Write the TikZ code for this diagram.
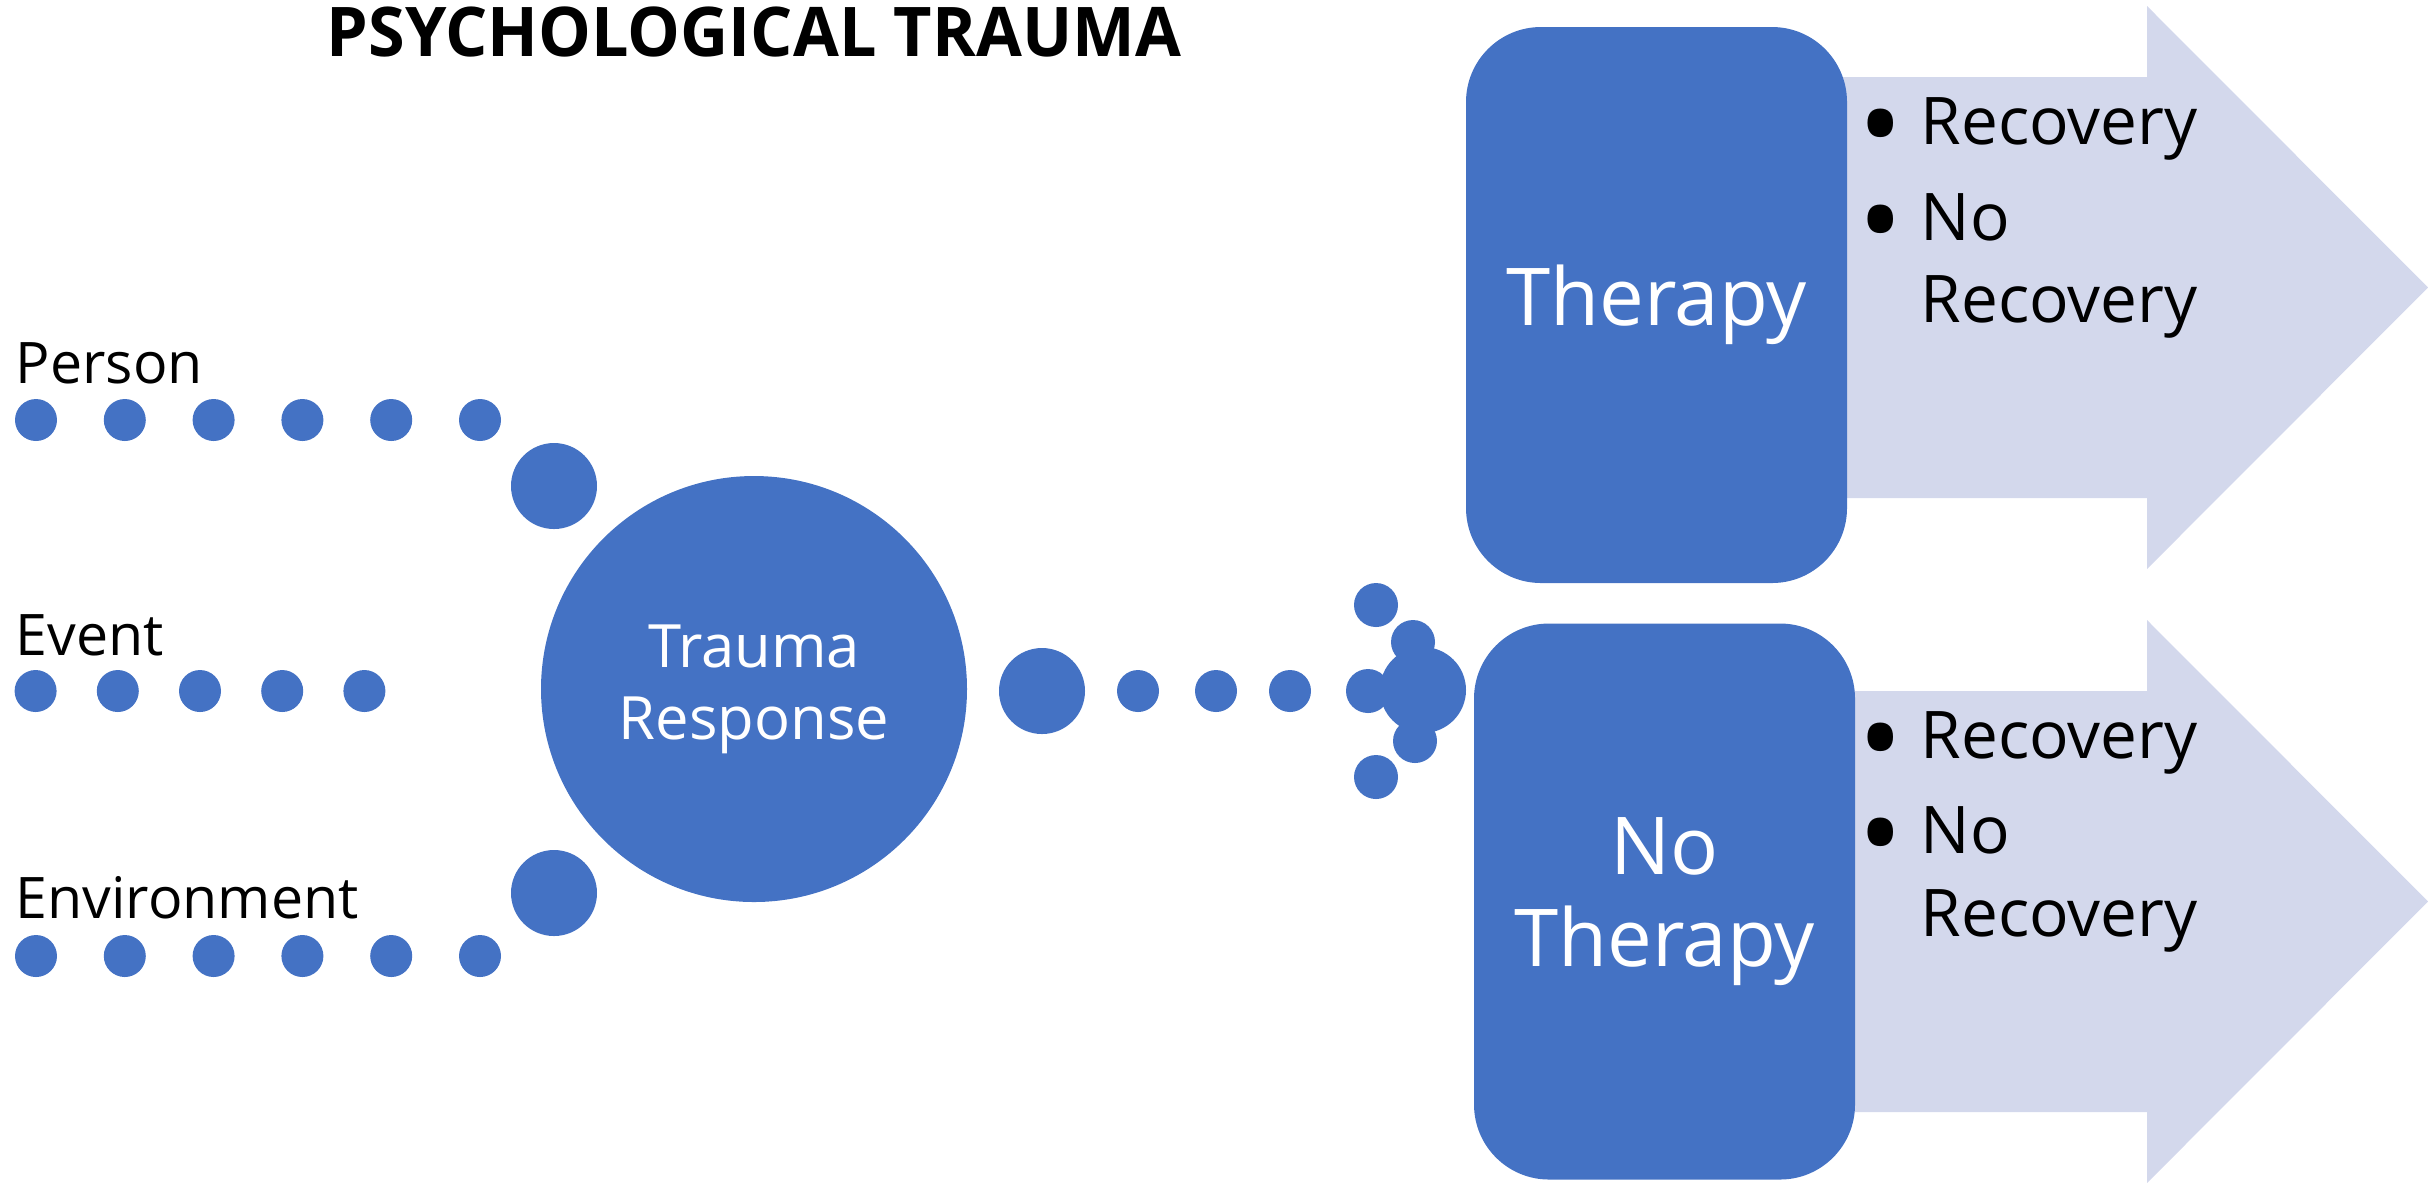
\documentclass[tikz,border=0pt]{standalone}
\usepackage{fontspec}
\setmainfont{Open Sans}
\newfontfamily\headfont{Open Sans}[FakeStretch=0.97]
\usepackage{xcolor}
\usetikzlibrary{positioning}
\definecolor{dotblue}{RGB}{68,114,196}
\definecolor{arrowlav}{RGB}{211,216,236}
\newcommand\outbullet{\makebox[0.62cm][l]{\smash{\raisebox{-6.4pt}{\scalebox{1.8}{\textbullet}}}}}

\begin{document}
\begin{tikzpicture}[
    y=-1cm,
    dot/.style={circle, fill=dotblue, inner sep=0pt, minimum size=0.42cm},
    bigdot/.style={dot, minimum size=0.86cm},
    hub/.style={circle, fill=dotblue, inner sep=0pt, minimum size=4.26cm, text=white, align=center, font=\fontsize{17}{20.4}\selectfont},
    choice/.style={rectangle, rounded corners=0.75cm, fill=dotblue, minimum width=3.81cm, minimum height=5.56cm, text=white, align=center, font=\fontsize{22.7}{26.4}\selectfont},
    factor/.style={anchor=base west, inner sep=0pt, font=\fontsize{16.3}{19}\selectfont},
    outcome/.style={anchor=base west, inner sep=0pt, font=\fontsize{18.7}{23}\selectfont},
    title/.style={anchor=base, inner sep=0pt, font=\headfont\bfseries\fontsize{19.5}{24}\selectfont}
]
\useasboundingbox (0,0) rectangle (24.28,11.82);

% Title
\node[title] (title) at (7.54,0.56) {PSYCHOLOGICAL TRAUMA};

% Factors
\node[factor] (personlbl) at (0.15,3.83) {Person};
\node[factor] (eventlbl) at (0.15,6.55) {Event};
\node[factor] (envlbl) at (0.15,9.18) {Environment};
\foreach \i in {1,...,6} \node[dot] (person\i) at ({0.36+0.888*(\i-1)},4.20) {};
\foreach \i in {1,...,5} \node[dot] (event\i) at ({0.356+0.822*(\i-1)},6.91) {};
\foreach \i in {1,...,6} \node[dot] (env\i) at ({0.36+0.888*(\i-1)},9.56) {};
\node[bigdot] (personjoin) at (5.54,4.86) {};
\node[bigdot] (envjoin) at (5.54,8.93) {};

% Trauma response
\node[hub] (trauma) at (7.54,6.89) {Trauma\\Response};

% Path to the split
\node[bigdot] (out0) at (10.42,6.91) {};
\node[dot] (out1) at (11.38,6.91) {};
\node[dot] (out2) at (12.16,6.91) {};
\node[dot] (out3) at (12.90,6.91) {};
\node[bigdot] (split) at (14.23,6.90) {};
\node[dot, minimum size=0.44cm] (split1) at (13.68,6.91) {};
\node[dot, minimum size=0.44cm] (split2) at (14.13,6.42) {};
\node[dot, minimum size=0.44cm] (split3) at (14.15,7.41) {};
\node[dot, minimum size=0.44cm] (split4) at (13.76,6.05) {};
\node[dot, minimum size=0.44cm] (split5) at (13.76,7.77) {};

% Outcome arrows
\fill[arrowlav] (18.2,0.77) -- (21.47,0.77) -- (21.47,0.06) -- (24.28,2.875) -- (21.47,5.69) -- (21.47,4.98) -- (18.2,4.98) -- cycle;
\fill[arrowlav] (18.2,6.91) -- (21.47,6.91) -- (21.47,6.20) -- (24.28,9.015) -- (21.47,11.83) -- (21.47,11.12) -- (18.2,11.12) -- cycle;

% Therapy boxes
\node[choice] (therapy) at (16.565,3.05) {Therapy};
\node[choice] (notherapy) at (16.645,9.015) {No\\Therapy};

% Outcomes
\node[outcome] (recov1) at (18.58,1.44) {\outbullet Recovery};
\node[outcome] (norecov1) at (18.58,2.40) {\outbullet No};
\node[outcome] (norecov1b) at (18.58,3.22) {\hspace*{0.62cm}Recovery};
\node[outcome] (recov2) at (18.58,7.58) {\outbullet Recovery};
\node[outcome] (norecov2) at (18.58,8.53) {\outbullet No};
\node[outcome] (norecov2b) at (18.58,9.36) {\hspace*{0.62cm}Recovery};
\end{tikzpicture}
\end{document}
